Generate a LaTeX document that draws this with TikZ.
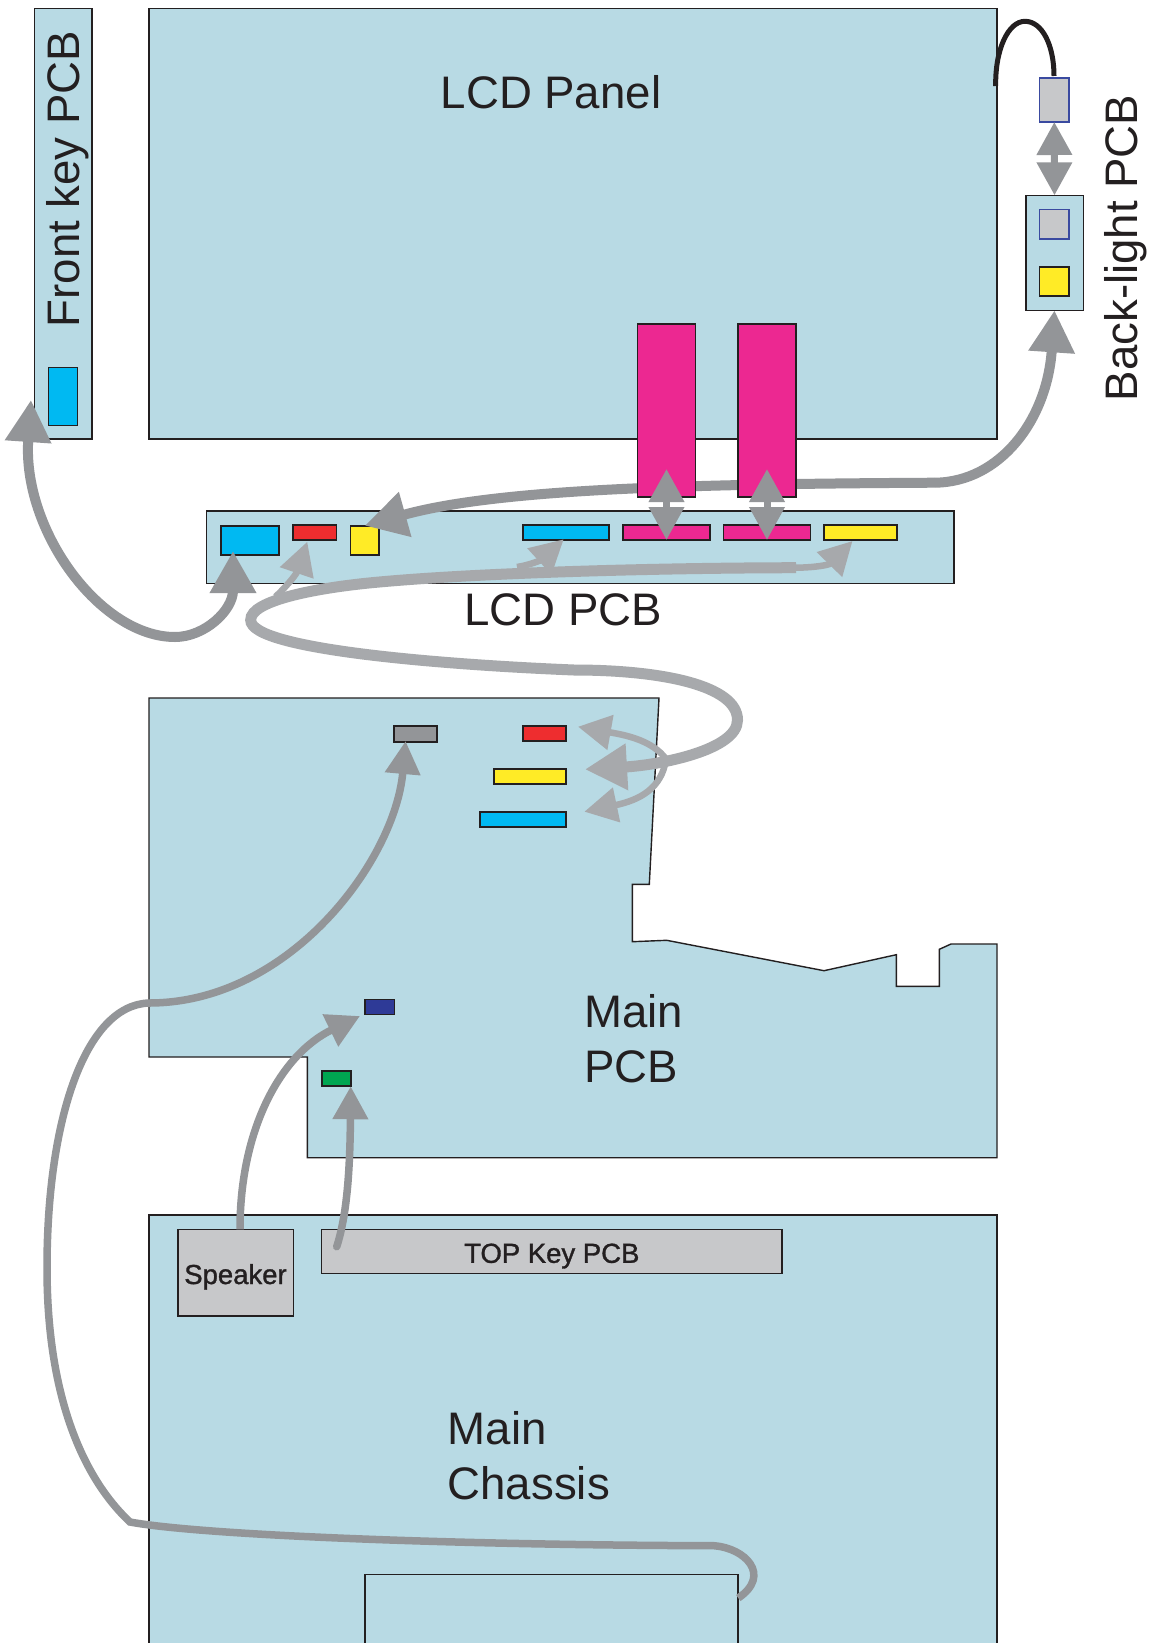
\documentclass[tikz,border=0pt]{standalone}
\usepackage{fontspec}
\setmainfont{Liberation Sans}
\newfontfamily\boldlabel[FakeBold=1.2]{Liberation Sans}
\usepackage{tikz}
\usetikzlibrary{arrows.meta}
\definecolor{BoardColor}{HTML}{B8DAE4}
\definecolor{InkColor}{HTML}{231F20}
\definecolor{WireDark}{HTML}{939598}
\definecolor{WireLight}{HTML}{A7A9AC}
\definecolor{PartGrey}{HTML}{C7C8CA}
\definecolor{ConnBlue}{HTML}{00B9F2}
\definecolor{ConnRed}{HTML}{EE2D2F}
\definecolor{ConnYellow}{HTML}{FFEB26}
\definecolor{ConnPink}{HTML}{EC2891}
\definecolor{ConnGreen}{HTML}{00A651}
\definecolor{ConnNavy}{HTML}{2E3A97}
\definecolor{ConnEdge}{HTML}{3A4AA0}

\begin{document}
\begin{tikzpicture}[x=1pt,y=-1pt,
   part/.style n args={3}{rectangle,draw=InkColor,line width=1.6pt,fill=#1,minimum width=#2pt,minimum height=#3pt,inner sep=0pt,outer sep=0pt},
   edgepart/.style n args={2}{part={PartGrey}{#1}{#2},draw=ConnEdge},
   bigtext/.style={text=InkColor,font=\fontsize{45.6}{55}\selectfont,align=left,inner sep=0pt},
   smalltext/.style={text=InkColor,font=\fontsize{27.5}{30}\boldlabel,text height=29pt,text depth=6pt},
   bigwire/.style={WireDark,line width=10pt},
   wire/.style={WireDark,line width=7.5pt},
   longwire/.style={WireLight,line width=11pt},
   thinwire/.style={WireLight,line width=6.5pt},
   headL/.tip={Triangle[length=42pt,width=44pt]},
   headM/.tip={Triangle[length=33pt,width=34pt]}]
\clip (0,0) rectangle (1153,1643);
\fill[white] (0,0) rectangle (1153,1643);
   \node[part={BoardColor}{57.4}{430.5}](frontpcb) at(63.3,223.75) {};
   \node[part={BoardColor}{848}{430.5}](lcdpanel) at(573,223.75) {};
   \node[part={BoardColor}{747.4}{72.6}](lcdpcb) at(580.3,547.3) {};
   \node[part={BoardColor}{57.6}{115}](backpcb) at(1054.5,252.8) {};
   \node[part={BoardColor}{848}{500}](chassis) at(573,1465) {};
\draw[InkColor,line width=1.4pt,fill=BoardColor] (149,698) -- (659,698) -- (649.3,884.3) -- (632.3,884.3)
   -- (632.3,941.7) -- (666.7,940.3) -- (824,970.7) -- (896.3,954.7) -- (896.3,986.3) -- (939.3,986.3)
   -- (939.3,949.3) -- (951,944) -- (997,944) -- (997,1157.7) -- (307.4,1157.7) -- (307.4,1057) -- (149,1057) -- cycle;
   \node[part={ConnBlue}{29}{58}](frontconn) at(63,396.5) {};
   \node[part={ConnBlue}{58}{29}](lcdblue) at(250,540.2) {};
   \node[part={ConnRed}{43.6}{15}](lcdred) at(314.6,532.5) {};
   \node[part={ConnYellow}{28.5}{29}](lcdyellow) at(364.75,540.2) {};
   \node[part={ConnBlue}{86}{15}](lcdlong) at(566,532.5) {};
   \node[part={ConnPink}{87}{15}](lcdpinka) at(666.5,532.5) {};
   \node[part={ConnPink}{87}{15}](lcdpinkb) at(767,532.5) {};
   \node[part={ConnYellow}{73}{15}](lcdstrip) at(860.5,532.5) {};
   \node[edgepart={29.3}{44}](backtop) at(1054.3,100) {};
   \node[edgepart={29.3}{29.4}](backgrey) at(1054.3,224) {};
   \node[part={ConnYellow}{29.3}{29}](backyellow) at(1054.3,281.5) {};
   \node[part={WireDark}{43}{16}](maingrey) at(415.5,734) {};
   \node[part={ConnRed}{43}{15}](mainred) at(544.5,733.5) {};
   \node[part={ConnYellow}{72}{15.3}](mainyellow) at(530,776.6) {};
   \node[part={ConnBlue}{86}{15.3}](mainblue) at(523,819.6) {};
   \node[part={ConnNavy}{29.6}{15}](mainnavy) at(379.5,1006.8) {};
   \node[part={ConnGreen}{29}{15.3}](maingreen) at(336.2,1078.6) {};
   \node[part={BoardColor}{373.5}{200}](innerbox) at(551.5,1674.3) {};
   \node[part={PartGrey}{115.6}{86.4},smalltext](speaker) at(235.5,1272.5) {Speaker};
   \node[part={PartGrey}{460.3}{44},smalltext](topkey) at(551.8,1251.3) {TOP Key PCB};
\coordinate (fronttip) at (31,400);
\coordinate (frontlow) at (175,637);
\coordinate (lcdbluetip) at (233,551);
\coordinate (bendback) at (935,482.7);
\draw[{headL}-{headL},bigwire] (lcdbluetip) .. controls (233,610) and (205,637) .. (frontlow)
   .. controls (100,637) and (22,530) .. (fronttip);
\draw[-{headL},bigwire] (bendback) .. controls (700,484) and (500,488) .. (lcdyellow.north);
\draw[-{headL},bigwire] (bendback) .. controls (1000,482) and (1047,420) .. (backpcb.south);
   \node[part={ConnPink}{58}{173}](flexa) at(666.5,410.7) {};
   \node[part={ConnPink}{58}{173}](flexb) at(767,410.7) {};
\coordinate (flexatip) at (666.5,469);
\coordinate (flexbtip) at (767,469);
\foreach \from/\to in {flexatip/lcdpinka,flexbtip/lcdpinkb} {
   \draw[{headM}-{headM},WireDark,line width=7pt] (\from) -- (\to.south);
}
\draw[{headM}-{headM},WireDark,line width=7pt] (backtop.south) -- (backpcb.north);
\draw[InkColor,line width=5pt] (995.7,86) .. controls (995,50) and (1008,21.3) .. (1025,21.3)
   .. controls (1042,21.3) and (1054,45) .. (1054,76);
\coordinate (gluea) at (737.5,720);
\coordinate (glueb) at (574,670);
\coordinate (gluec) at (250.7,620);
\coordinate (glued) at (382.7,581.7);
\coordinate (wireend) at (796,567.7);
\coordinate (mainyellowtip) at (585,769.3);
\draw[-{headL},longwire] (wireend) .. controls (650,568) and (480,573) .. (glued)
   .. controls (320,587) and (250,600) .. (gluec)
   .. controls (250,650) and (450,665) .. (glueb)
   .. controls (660,670) and (737.5,685) .. (gluea)
   .. controls (737.5,750) and (660,765) .. (mainyellowtip);
\coordinate (fork) at (666,759);
\coordinate (mainredtip) at (578,726.7);
\coordinate (mainbluetip) at (584.3,811.7);
\draw[-{headM},thinwire] (fork) .. controls (652,740) and (625,735) .. (mainredtip);
\draw[-{headM},thinwire] (fork) .. controls (662,788) and (640,800) .. (mainbluetip);
\coordinate (redtail) at (275.5,596.7);
\coordinate (lcdredtip) at (307.3,541.7);
\coordinate (bluetail) at (517,567);
\coordinate (lcdlongtip) at (563.7,539.3);
\coordinate (lcdstriptip) at (852.5,541);
\draw[-{headM},thinwire] (redtail) .. controls (285,588) and (296,575) .. (lcdredtip);
\draw[-{headM},thinwire] (bluetail) .. controls (530,565) and (541,560) .. (lcdlongtip);
\draw[-{headM},thinwire] (wireend) .. controls (815,567.5) and (829,565) .. (lcdstriptip);
\coordinate (speakerout) at (240,1229.3);
\coordinate (navytip) at (360,1016);
\draw[-{headM},wire] (speakerout) .. controls (240,1130) and (280,1055) .. (navytip);
\coordinate (keytail) at (336.7,1246.7);
\draw[-{headM},wire,line cap=round] (keytail) .. controls (347,1215) and (350,1170) .. (maingreen.south east);
\coordinate (greytip) at (405.6,741);
\coordinate (chassisa) at (149,1003);
\coordinate (chassisb) at (47,1268);
\coordinate (chassisc) at (130,1522);
\coordinate (chassisd) at (714,1545.7);
\coordinate (chassise) at (738.3,1598);
\draw[{headM}-,wire] (greytip) .. controls (395,860) and (290,1003) .. (chassisa)
   .. controls (85,1005) and (47,1120) .. (chassisb)
   .. controls (47,1400) and (85,1480) .. (chassisc)
   .. controls (200,1535) and (450,1545) .. (chassisd)
   .. controls (745,1548) and (772,1575) .. (chassise);
   \node[bigtext](paneltext) at(551,92) {LCD Panel};
   \node[bigtext](pcbtext) at(563,610) {LCD PCB};
   \node[bigtext,rotate=90](fronttext) at(68,179) {Front key PCB};
   \node[bigtext,rotate=90](backtext) at(1126,248) {Back-light PCB};
   \node[bigtext,anchor=west](maintext) at(584,1039) {Main\\PCB};
   \node[bigtext,anchor=west](chassistext) at(447.5,1456) {Main\\Chassis};
\end{tikzpicture}
\end{document}
